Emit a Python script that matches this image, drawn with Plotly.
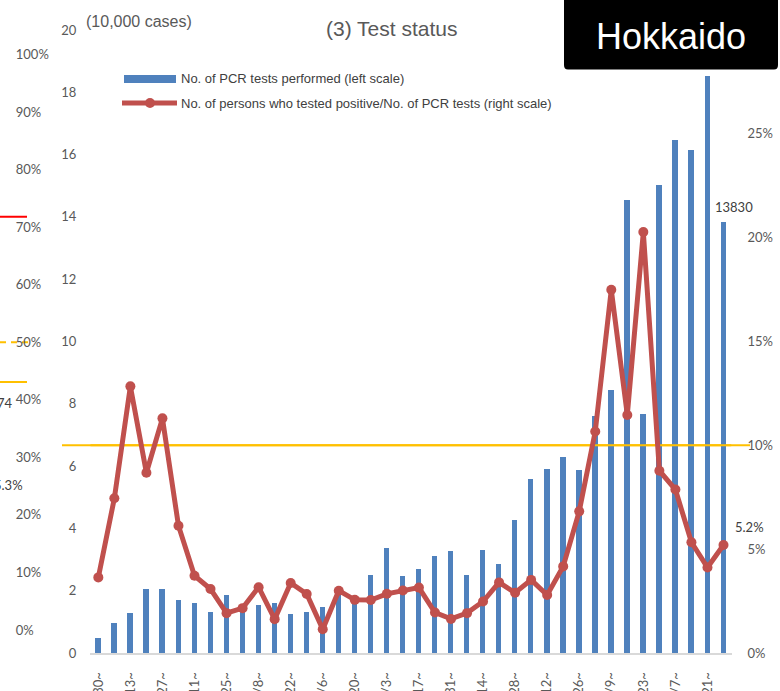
import plotly.graph_objects as go

W, H = 780, 691

# Week-start labels (one bar per week)
weeks = [
    "3/30~", "4/6~", "4/13~", "4/20~", "4/27~", "5/4~", "5/11~", "5/18~",
    "5/25~", "6/1~", "6/8~", "6/15~", "6/22~", "6/29~", "7/6~", "7/13~",
    "7/20~", "7/27~", "8/3~", "8/10~", "8/17~", "8/24~", "8/31~", "9/7~",
    "9/14~", "9/21~", "9/28~", "10/5~", "10/12~", "10/19~", "10/26~", "11/2~",
    "11/9~", "11/16~", "11/23~", "11/30~", "12/7~", "12/14~", "12/21~", "12/28~",
]

# No. of PCR tests performed (left scale)
pcr_tests = [
    0.48, 0.96, 1.29, 2.06, 2.05, 1.71, 1.59, 1.31,
    1.87, 1.52, 1.55, 1.62, 1.24, 1.33, 1.49, 1.90,
    1.80, 2.52, 3.38, 2.46, 2.70, 3.10, 3.27, 2.52,
    3.32, 2.87, 4.28, 5.59, 5.91, 6.29, 5.86, 7.62,
    8.43, 14.55, 7.66, 15.04, 16.48, 16.16, 18.51, 13.83,
]

# Positive persons / PCR tests, % (right scale)
positivity = [
    3.64, 7.45, 12.84, 8.68, 11.30, 6.13, 3.72, 3.08,
    1.92, 2.16, 3.17, 1.63, 3.37, 2.84, 1.14, 3.00,
    2.56, 2.55, 2.85, 3.01, 3.15, 1.95, 1.64, 1.92,
    2.48, 3.40, 2.90, 3.52, 2.79, 4.17, 6.82, 10.67,
    17.49, 11.46, 20.27, 8.78, 7.87, 5.33, 4.12, 5.2,
]

left_ticks = list(range(0, 21, 2))
right_ticks = [0, 5, 10, 15, 20, 25]
positivity_threshold = 10

# Neighbouring panel: its right-hand percentage scale and reference lines
prev_ticks = list(range(0, 101, 10))
prev_red_line = 71.8
prev_dashed_line = 50
prev_yellow_line = 43.1

bar_name = "No. of PCR tests performed (left scale)"
line_name = "No. of persons who tested positive/No. of PCR tests (right scale)"

BLUE = "#4F81BD"
RED = "#C0504D"
GOLD = "#FFC000"
GREY = "#595959"
DARK = "#404040"
NUM_FONT = "Lato, Carlito, sans-serif"
TXT_FONT = "Liberation Sans, Arial, sans-serif"


def px(x):
    return x / W


def py(y):
    return 1 - y / H


def pct(values):
    return [f"{v}%" for v in values]


xs = list(range(len(weeks)))

fig = go.Figure()

fig.add_trace(go.Bar(
    x=xs, y=pcr_tests, width=0.33, marker=dict(color=BLUE, line=dict(width=0)),
    name=bar_name, showlegend=False, xaxis="x", yaxis="y",
))

# 10% reference inside the plot, drawn over the bars but under the line
fig.add_trace(go.Scatter(
    x=[-0.5, len(weeks) - 0.5], y=[positivity_threshold] * 2, mode="lines",
    line=dict(color=GOLD, width=2), showlegend=False, hoverinfo="skip",
    xaxis="x", yaxis="y2",
))

fig.add_trace(go.Scatter(
    x=xs, y=positivity, mode="lines+markers",
    line=dict(color=RED, width=5), marker=dict(color=RED, size=10),
    name=line_name, showlegend=False, cliponaxis=False, xaxis="x", yaxis="y2",
))

# placeholder so the neighbouring panel's axis gets drawn
fig.add_trace(go.Scatter(x=[None], y=[None], xaxis="x3", yaxis="y3",
                         showlegend=False, hoverinfo="skip"))

tick_font = dict(family=NUM_FONT, size=13, color=GREY)

shapes = [
    # 10% reference extending past the plot edges
    dict(type="line", xref="paper", yref="y2", x0=px(62), x1=px(750),
         y0=positivity_threshold, y1=positivity_threshold,
         line=dict(color=GOLD, width=2), layer="below"),
    # neighbouring panel reference lines
    dict(type="line", xref="paper", yref="y3", x0=0, x1=px(27),
         y0=prev_red_line, y1=prev_red_line, line=dict(color="#FF0000", width=2)),
    dict(type="line", xref="paper", yref="y3", x0=0, x1=px(29),
         y0=prev_dashed_line, y1=prev_dashed_line,
         line=dict(color=GOLD, width=2, dash="6px,5px"), layer="below"),
    dict(type="line", xref="paper", yref="y3", x0=0, x1=px(27),
         y0=prev_yellow_line, y1=prev_yellow_line, line=dict(color=GOLD, width=2)),
    # legend swatches
    dict(type="rect", xref="paper", yref="paper", x0=px(124), x1=px(176),
         y0=py(83), y1=py(75), fillcolor=BLUE, line=dict(width=0)),
    dict(type="line", xref="paper", yref="paper", x0=px(122), x1=px(177),
         y0=py(103), y1=py(103), line=dict(color=RED, width=5)),
    dict(type="circle", xref="paper", yref="paper", x0=px(145), x1=px(155),
         y0=py(108), y1=py(98), fillcolor=RED, line=dict(width=0)),
    # region badge
    dict(type="path", xref="paper", yref="paper",
         path=(f"M {px(564)},{py(-5)} L {px(778)},{py(-5)} "
               f"L {px(778)},{py(65)} Q {px(778)},{py(69.5)} {px(774)},{py(69.5)} "
               f"L {px(568)},{py(69.5)} Q {px(564)},{py(69.5)} {px(564)},{py(65)} Z"),
         fillcolor="#000000", line=dict(width=0)),
]

annotations = [
    dict(text="(3) Test status", xref="paper", yref="paper", x=px(392), y=py(28),
         xanchor="center", yanchor="middle", showarrow=False,
         font=dict(family=TXT_FONT, size=21, color=GREY)),
    dict(text="(10,000 cases)", xref="paper", yref="paper", x=px(84), y=py(21),
         xanchor="left", yanchor="middle", showarrow=False,
         font=dict(family=TXT_FONT, size=16, color=GREY)),
    dict(text=bar_name, xref="paper", yref="paper", x=px(179), y=py(79),
         xanchor="left", yanchor="middle", showarrow=False,
         font=dict(family=TXT_FONT, size=13, color=DARK)),
    dict(text=line_name, xref="paper", yref="paper", x=px(179), y=py(103),
         xanchor="left", yanchor="middle", showarrow=False,
         font=dict(family=TXT_FONT, size=13, color=DARK)),
    dict(text="Hokkaido", xref="paper", yref="paper", x=px(671), y=py(36),
         xanchor="center", yanchor="middle", showarrow=False,
         font=dict(family=TXT_FONT, size=36, color="#FFFFFF")),
    # value labels for the latest week
    dict(text=f"{round(pcr_tests[-1] * 1000)}", xref="x", yref="y",
         x=xs[-1], y=pcr_tests[-1], xshift=11, yshift=15,
         xanchor="center", yanchor="middle", showarrow=False,
         font=dict(family=NUM_FONT, size=13, color=DARK)),
    dict(text=f"{positivity[-1]:.1f}%", xref="x", yref="y2",
         x=xs[-1], y=positivity[-1], xshift=26, yshift=18,
         xanchor="center", yanchor="middle", showarrow=False,
         font=dict(family=NUM_FONT, size=13, color=DARK)),
    # value labels of the neighbouring panel, partly off the left edge
    dict(text="74", xref="paper", yref="paper", x=px(15), y=py(403),
         xanchor="right", yanchor="middle", showarrow=False,
         font=dict(family=NUM_FONT, size=13, color=DARK)),
    dict(text="5.3%", xref="paper", yref="paper", x=px(25), y=py(485),
         xanchor="right", yanchor="middle", showarrow=False,
         font=dict(family=NUM_FONT, size=13, color=DARK)),
]

fig.update_layout(
    width=W, height=H,
    margin=dict(l=0, r=0, t=0, b=0),
    paper_bgcolor="#FFFFFF", plot_bgcolor="rgba(0,0,0,0)",
    showlegend=False, bargap=0,
    xaxis=dict(
        domain=[px(90.3), px(731.5)], range=[-0.5, len(weeks) - 0.5],
        tickmode="array", tickvals=xs[::2], ticktext=weeks[::2],
        tickangle=-90, tickfont=tick_font, ticks="", ticklabelstandoff=12,
        showgrid=False, zeroline=False, showline=True,
        linecolor="#D9D9D9", linewidth=2, anchor="y", automargin=False,
    ),
    yaxis=dict(
        domain=[py(653), py(30)], range=[0, 20], tickmode="array",
        tickvals=left_ticks, ticktext=[str(v) for v in left_ticks],
        tickfont=tick_font, ticks="", ticklabelstandoff=13,
        showgrid=False, zeroline=False, showline=False, anchor="x",
        automargin=False,
    ),
    yaxis2=dict(
        overlaying="y", side="right", range=[0, 30], tickmode="array",
        tickvals=right_ticks, ticktext=pct(right_ticks), tickfont=tick_font,
        ticks="", ticklabelstandoff=15, showgrid=False, zeroline=False,
        showline=False, anchor="x", automargin=False,
    ),
    xaxis3=dict(domain=[0, 0.001], range=[0, 1], visible=False, anchor="y3"),
    yaxis3=dict(
        domain=[py(630), py(54.6)], range=[0, 100], side="right",
        tickmode="array", tickvals=prev_ticks, ticktext=pct(prev_ticks),
        tickfont=tick_font, ticks="", ticklabelstandoff=14,
        showgrid=False, zeroline=False, showline=False, anchor="x3",
        automargin=False,
    ),
    shapes=shapes,
    annotations=annotations,
)

fig.write_html("out.html")
